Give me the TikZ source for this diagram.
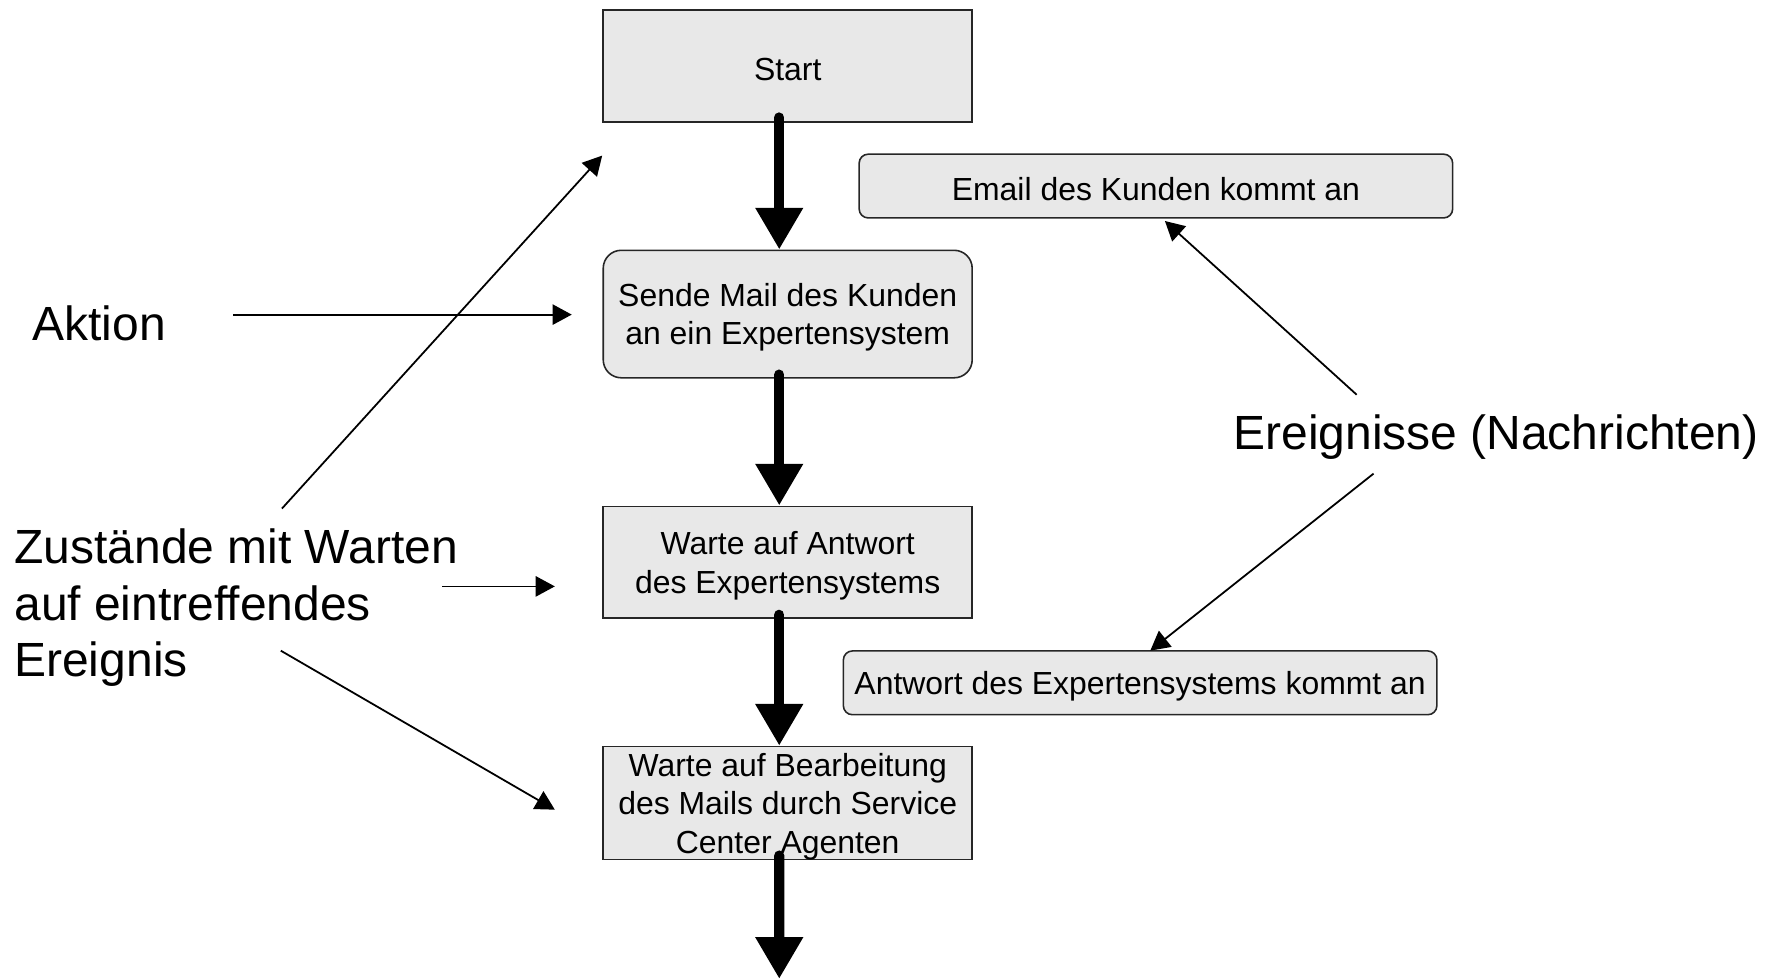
\documentclass[tikz,border=0pt]{standalone}
\usepackage{fontspec}
\setmainfont{Liberation Sans}
\usetikzlibrary{arrows.meta}
\definecolor{boxfill}{HTML}{E8E8E8}
\definecolor{boxline}{HTML}{262626}
\begin{document}
\begin{tikzpicture}[x=0.01cm,y=-0.01cm,
  boxtext/.style={font=\fontsize{8.05}{9.7}\selectfont, align=center, inner sep=0pt, yshift=-0.03cm},
  box/.style={draw=boxline, fill=boxfill, line width=0.4pt, inner sep=0pt,
    minimum width=3.27cm, minimum height=0.99cm},
  rbox/.style={box, rounded corners=0.16cm},
  evbox/.style={draw=boxline, fill=boxfill, line width=0.4pt, rounded corners=0.08cm, inner sep=0pt,
    minimum width=5.26cm, minimum height=0.565cm},
  flow/.style={line width=2.6pt, line cap=round, -{Triangle[length=0.37cm,width=0.40cm]}},
  pointer/.style={line width=0.45pt, -{Triangle[length=0.17cm,width=0.18cm]}},
  big/.style={font=\fontsize{12.1}{14.2}\selectfont, inner sep=0pt, align=left, anchor=west}]
\useasboundingbox (0,0) rectangle (1566,868);

% boxes
\node[box, label={[boxtext]center:Start}] (start) at (698.5,58.5) {};
\node[rbox, minimum height=1.13cm, label={[boxtext]center:Sende Mail des Kunden\\ an ein Expertensystem}] (sende) at (698.5,278.5) {};
\node[box, label={[boxtext]center:Warte auf Antwort\\des Expertensystems}] (warte1) at (698.5,498.5) {};
\node[box, minimum height=1.0cm, label={[boxtext]center:Warte auf Bearbeitung\\des Mails durch Service\\Center Agenten}] (warte2) at (698.5,712) {};
\node[evbox, label={[boxtext]center:Email des Kunden kommt an}] (email) at (1025,165) {};
\node[evbox, label={[boxtext]center:Antwort des Expertensystems kommt an}] (antwort) at (1011,605.5) {};

% labels
\node[big] (aktion) at (28,287) {Aktion};
\node[big] (zust) at (12,539) {Zustände mit Warten\\auf eintreffendes\\Ereignis};
\node[big] (ereig) at (1093,388) {Ereignisse (Nachrichten)};

% pointer end points
\coordinate (a0) at (207,279);  \coordinate (a1) at (507,279);
\coordinate (z0) at (250,451);  \coordinate (z1) at (534,138);
\coordinate (z2) at (392,520);  \coordinate (z3) at (492,520);
\coordinate (z4) at (249,577);  \coordinate (z5) at (492,718);
\coordinate (e0) at (1203,350); \coordinate (e1) at (1033,196);
\coordinate (e2) at (1218,420); \coordinate (e3) at (1020,577);
\coordinate (fend) at (691,868);

% thin pointers
\draw[pointer] (a0) -- (a1);
\draw[pointer] (z0) -- (z1);
\draw[pointer] (z2) -- (z3);
\draw[pointer] (z4) -- (z5);
\draw[pointer] (e0) -- (e1);
\draw[pointer] (e2) -- (e3);

% thick flow arrows
\draw[flow] ([xshift=-0.075cm, yshift=0.045cm]start.south) -- ([xshift=-0.075cm]sende.north);
\draw[flow] ([xshift=-0.075cm, yshift=0.035cm]sende.south) -- ([xshift=-0.075cm]warte1.north);
\draw[flow] ([xshift=-0.075cm, yshift=0.035cm]warte1.south) -- ([xshift=-0.075cm]warte2.north);
\draw[flow] ([xshift=-0.075cm, yshift=0.04cm]warte2.south) -- (fend);
\end{tikzpicture}
\end{document}
